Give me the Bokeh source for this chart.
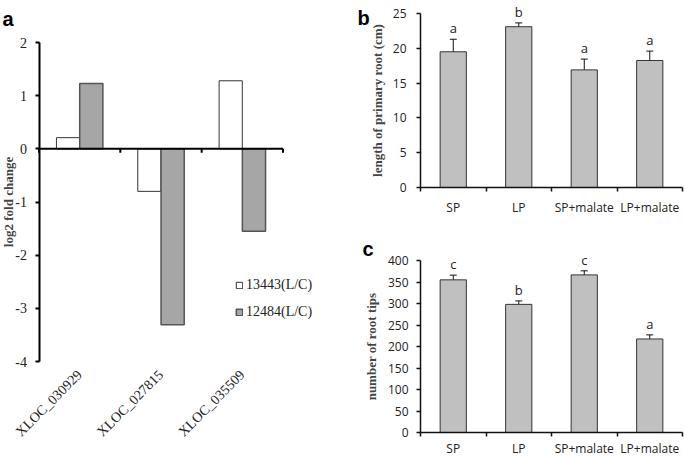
from math import pi
from bokeh.plotting import figure
from bokeh.models import (Range1d, LinearAxis, FixedTicker, ColumnDataSource, Legend,
                          LegendItem, Label, LabelSet, Whisker, TeeHead)
from bokeh.layouts import row, column
from bokeh.transform import dodge
from bokeh.embed import file_html
from bokeh.resources import INLINE
from bokeh.core.properties import value

# ---------------- data ----------------
genes = ["XLOC_030929", "XLOC_027815", "XLOC_035509"]
fc_13443 = [0.21, -0.80, 1.28]
fc_12484 = [1.23, -3.31, -1.55]
legend_labels = ["13443(L/C)", "12484(L/C)"]
ticks_a = [-4, -3, -2, -1, 0, 1, 2]

treatments = ["SP", "LP", "SP+malate", "LP+malate"]
root_len = [19.5, 23.1, 16.9, 18.25]
root_len_err = [1.8, 0.55, 1.55, 1.35]
root_len_sig = ["a", "b", "a", "a"]
ticks_b = [0, 5, 10, 15, 20, 25]

root_tips = [355, 298, 366.5, 217.5]
root_tips_err = [11, 8, 9.5, 9.5]
root_tips_sig = ["c", "b", "c", "a"]
ticks_c = [0, 50, 100, 150, 200, 250, 300, 350, 400]

panel_letters = ["a", "b", "c"]

SERIF = "Liberation Serif"
SANS = "Open Sans"
BOLD_SANS = "Liberation Sans"


# -------- helpers: ranges that put given values at given pixels of a full-size frame -----
def x_range_px(v1, p1, v2, p2, width):
    s = (v2 - v1) / (p2 - p1)
    return Range1d(v1 - p1 * s, v1 + (width - p1) * s)


def y_range_px(v_top, p_top, v_bot, p_bot, height):
    s = (v_top - v_bot) / (p_bot - p_top)
    return Range1d(v_bot - (height - p_bot) * s, v_top + p_top * s)


def make_fig(width, height, xr, yr):
    p = figure(width=width, height=height, x_range=xr, y_range=yr, title=None,
               output_backend="svg", toolbar_location=None,
               x_axis_location=None, y_axis_location=None,
               min_border=0, min_border_left=0, min_border_right=0,
               min_border_top=0, min_border_bottom=0)
    p.outline_line_color = None
    p.grid.grid_line_color = None
    return p


def y_axis(p, x_loc, ticks, bounds, font, size, line_w, line_c, label, lab_standoff,
           tick_standoff):
    ax = LinearAxis(fixed_location=x_loc, bounds=bounds, ticker=FixedTicker(ticks=ticks),
                    major_label_overrides={t: str(t) for t in ticks},
                    major_label_text_font=font, major_label_text_font_size=size,
                    major_label_text_color="#222222", axis_line_width=line_w,
                    axis_line_color=line_c, major_tick_line_width=line_w,
                    major_tick_line_color=line_c, major_tick_in=0, major_tick_out=4,
                    minor_tick_line_color=None, major_label_standoff=tick_standoff,
                    axis_label=label, axis_label_text_font=SERIF,
                    axis_label_text_font_style="bold", axis_label_text_font_size="13px",
                    axis_label_standoff=lab_standoff)
    p.add_layout(ax, "left")


def letter(p, text, x, y):
    p.add_layout(Label(x=x, y=y, x_units="screen", y_units="screen", text=text,
                       text_font=BOLD_SANS, text_font_style="bold", text_font_size="20px",
                       text_baseline="alphabetic", text_align="left", text_color="black"))


# ---------------- panel a ----------------
W_A, H_A = 340, 456
n_a = len(genes)
pa = make_fig(W_A, H_A, x_range_px(0.5, 38.5, n_a + 0.5, 282.5, W_A),
              y_range_px(ticks_a[-1], 42, ticks_a[0], 361, H_A))

src_a = ColumnDataSource(dict(pos=list(range(1, n_a + 1)), gene=genes,
                              s1=fc_13443, s2=fc_12484))
r1 = pa.vbar(x=dodge("pos", -0.143), top="s1", bottom=0, width=0.285,
             source=src_a, fill_color="white", line_color="#333333", line_width=1)
r2 = pa.vbar(x=dodge("pos", 0.143), top="s2", bottom=0, width=0.285,
             source=src_a, fill_color="#a6a6a6", line_color="#555555", line_width=1.5)

# category axis crossing at zero, with ticks on the category boundaries
bounds_a = [i + 0.5 for i in range(n_a + 1)]
tick_len_a = 4 * (ticks_a[-1] - ticks_a[0]) / (361 - 42)
pa.line(x=[bounds_a[0], bounds_a[-1]], y=[0, 0], line_color="black", line_width=2)
pa.segment(x0=bounds_a, y0=[0] * len(bounds_a), x1=bounds_a,
           y1=[-tick_len_a] * len(bounds_a), line_color="black", line_width=2)

lab_a = LinearAxis(fixed_location=ticks_a[0], ticker=FixedTicker(ticks=list(range(1, n_a + 1))),
                   major_label_overrides={i + 1: g for i, g in enumerate(genes)},
                   axis_line_color=None, major_tick_line_color=None, major_tick_in=0,
                   major_tick_out=0, minor_tick_line_color=None,
                   major_label_text_font=SERIF, major_label_text_font_size="14px",
                   major_label_text_color="#222222", major_label_standoff=11,
                   major_label_orientation=pi / 4)
pa.add_layout(lab_a, "below")
y_axis(pa, 0.5, ticks_a, (ticks_a[0], ticks_a[-1]), SERIF, "14px", 2, "black",
       "log2 fold change", -3, 8)

legend = Legend(items=[LegendItem(label=legend_labels[0], renderers=[r1]),
                       LegendItem(label=legend_labels[1], renderers=[r2])],
                location=(235, H_A - 320), glyph_width=8, glyph_height=8,
                label_text_font=SERIF, label_text_font_size="14px", label_height=16,
                label_text_color="#222222", spacing=11, padding=0, margin=0,
                border_line_color=None, background_fill_alpha=0, label_standoff=3)
pa.add_layout(legend)
letter(pa, panel_letters[0], 2, H_A - 18)


# ---------------- panels b, c ----------------
def bar_panel(height, ticks, vals, errs, sig, ylabel, y_top_px, y_bot_px,
              label_standoff, ylab_standoff, tick_standoff, letter_text, letter_xy):
    W = 345
    n = len(treatments)
    p = make_fig(W, height, x_range_px(0.5, 80, n + 0.5, 342, W),
                 y_range_px(ticks[-1], y_top_px, ticks[0], y_bot_px, height))
    src = ColumnDataSource(dict(pos=list(range(1, n + 1)), t=treatments, v=vals,
                                up=[v + e for v, e in zip(vals, errs)],
                                lo=[v - e for v, e in zip(vals, errs)], sig=sig))
    p.vbar(x="pos", top="v", bottom=0, width=0.4, source=src, fill_color="#c0c0c0",
           line_color="#333333", line_width=1)
    p.add_layout(Whisker(source=src, base="pos", upper="up", lower="lo", line_color="#111111",
                         line_width=1,
                         upper_head=TeeHead(size=7, line_color="#111111", line_width=1),
                         lower_head=TeeHead(size=7, line_color="#111111", line_width=1)))
    p.add_layout(LabelSet(source=src, x="pos", y="up", text="sig", text_font=value(SANS),
                          text_font_size=value("13px"), text_color="#222222",
                          text_align="center", text_baseline="bottom", y_offset=2))
    ax = LinearAxis(fixed_location=0, bounds=(0.5, n + 0.5),
                    ticker=FixedTicker(ticks=list(range(1, n + 1)),
                                       minor_ticks=[i + 0.5 for i in range(n + 1)]),
                    major_label_overrides={i + 1: t for i, t in enumerate(treatments)},
                    axis_line_width=1.5, axis_line_color="#111111",
                    major_tick_line_color=None, major_tick_in=0, major_tick_out=4,
                    minor_tick_in=0, minor_tick_out=4, minor_tick_line_width=1.5,
                    minor_tick_line_color="#111111",
                    major_label_text_font=SANS, major_label_text_font_size="12px",
                    major_label_text_color="#222222", major_label_standoff=label_standoff)
    p.add_layout(ax, "below")
    y_axis(p, 0.5, ticks, (ticks[0], ticks[-1]), SANS, "12px", 1.5, "#111111", ylabel,
           ylab_standoff, tick_standoff)
    letter(p, letter_text, letter_xy[0], height - letter_xy[1])
    return p


pb = bar_panel(218, ticks_b, root_len, root_len_err, root_len_sig,
               "length of primary root (cm)", 13, 187, 7, 5, 10, panel_letters[1], (17, 17))
pc = bar_panel(238, ticks_c, root_tips, root_tips_err, root_tips_sig,
               "number of root tips", 42, 214, 3, 6, 8, panel_letters[2], (22, 30))

layout = row(pa, column(pb, pc))
open("out.html", "w").write(file_html(layout, INLINE))
